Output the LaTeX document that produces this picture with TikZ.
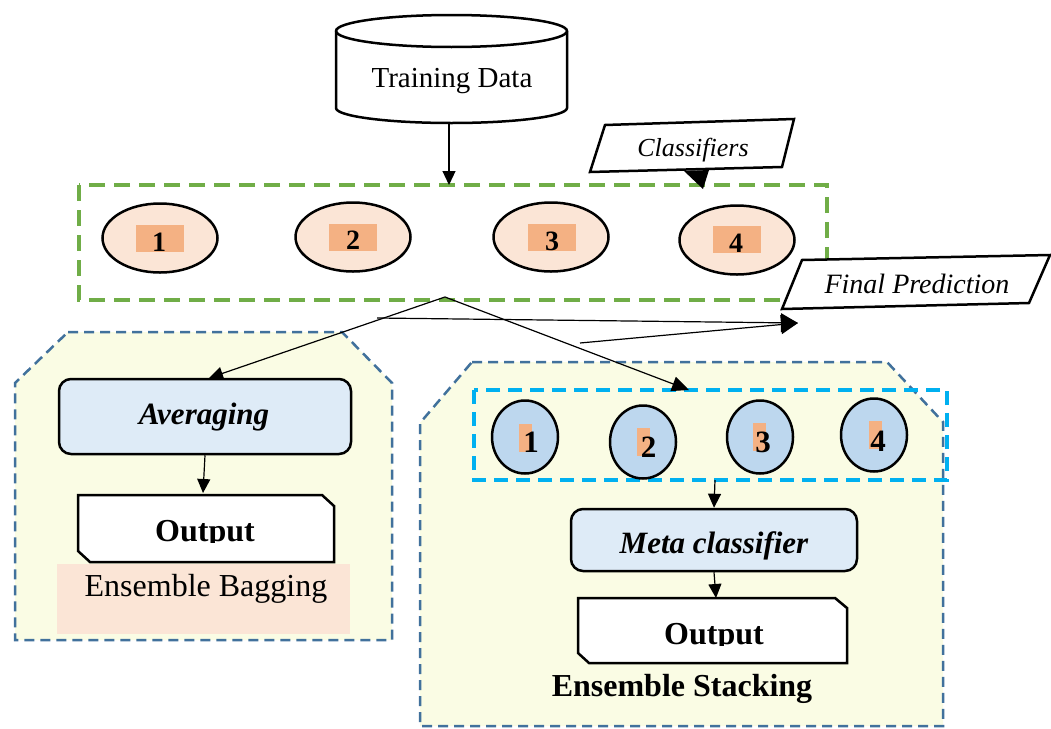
\documentclass[tikz,border=0pt]{standalone}
\usepackage{fontspec}
\setmainfont{Liberation Serif}
\usetikzlibrary{shapes.geometric,arrows.meta,calc}
\definecolor{peach}{HTML}{FBE5D6}
\definecolor{orng}{HTML}{F4B183}
\definecolor{cblue}{HTML}{BDD7EE}
\definecolor{lblue}{HTML}{DEEBF7}
\definecolor{pyellow}{RGB}{250,252,228}
\definecolor{gdash}{HTML}{70AD47}
\definecolor{bdash}{HTML}{41719C}
\definecolor{cdash}{HTML}{00B0F0}
\tikzset{
  panel/.style={draw=bdash, fill=pyellow, line width=2.5pt, dash pattern=on 10pt off 6pt},
  ell/.style={ellipse, draw, line width=2.5pt, fill=peach, minimum width=115pt, minimum height=69pt, inner sep=0pt},
  circ/.style={ellipse, draw, line width=2.5pt, fill=cblue, minimum width=66pt, minimum height=73pt, inner sep=0pt},
  orect/.style={fill=orng, inner sep=0pt, minimum width=48pt, minimum height=27pt},
  orectc/.style={fill=orng, inner sep=0pt, minimum width=13pt, minimum height=28pt},
  digA/.style={font=\fontsize{28}{28}\selectfont\bfseries, inner sep=0pt, anchor=base},
  digB/.style={font=\fontsize{31}{31}\selectfont\bfseries, inner sep=0pt, anchor=base},
  rbox/.style={draw, line width=2.5pt, fill=lblue, rounded corners=12pt, inner sep=0pt},
  shapeline/.style={draw, line width=2.5pt},
  lbl/.style={inner sep=0pt, anchor=base},
  arr/.style={line width=1.2pt, -{Triangle[length=14pt,width=13pt]}},
  bigarr/.style={line width=1.2pt, -{Triangle[length=17pt,width=19pt]}},
}
\begin{document}
\begin{tikzpicture}[x=1pt,y=-1pt]
\useasboundingbox[fill=white] (0,0) rectangle (1051,728);

% panels
\draw[panel] (68,332) -- (342,332) -- (392,383) -- (392,640) -- (15,640) -- (15,383) -- cycle;
\draw[panel] (472,362) -- (887,362) -- (943,422) -- (943,726) -- (420,726) -- (420,423) -- cycle;

% cylinder
\draw[line width=2.5pt, fill=white] (336,31) -- (336,108) arc[start angle=180, end angle=360, x radius=115.5pt, y radius=15pt] -- (567,31) arc[start angle=0, end angle=180, x radius=115.5pt, y radius=16pt] -- cycle;
\draw[line width=2.5pt] (336,31) arc[start angle=180, end angle=360, x radius=115.5pt, y radius=16pt];
\node[lbl, font=\fontsize{29}{29}\selectfont] (td) at (452,87) {Training Data};
\coordinate (tdb) at (449,124);

% classifier box
\draw[gdash, line width=4pt, dash pattern=on 16pt off 9pt] (79,185) rectangle (827,300);
\coordinate (gtop) at (449,185);
\coordinate (gtip) at (703,189);

\node[ell] (e1) at (160,238) {};
\node[ell] (e2) at (353,237) {};
\node[ell] (e3) at (551,237) {};
\node[ell] (e4) at (737,240) {};
\node[orect] (o1) at (160,238.5) {};
\node[orect] (o2) at (353,237.5) {};
\node[orect] (o3) at (552,237.5) {};
\node[orect] (o4) at (737,239.5) {};
\node[digA] (d1) at (159,251) {1};
\node[digA] (d2) at (353,249) {2};
\node[digA] (d3) at (552,250) {3};
\node[digA] (d4) at (736,252) {4};

% Classifiers callout
\draw[shapeline, fill=white] (605,125) -- (794,119) -- (782,167) -- (590,172) -- cycle;
\node[lbl, font=\fontsize{26}{26}\selectfont\itshape] (cls) at (693,156) {Classifiers};
\coordinate (clsb) at (697,170);
\fill (684,171) -- (709,170) -- (gtip) -- cycle;

% Final Prediction
\draw[shapeline, fill=white] (802,260) -- (1050,255) -- (1029,303) -- (782,309) -- cycle;
\node[lbl, font=\fontsize{28}{28}\selectfont\itshape] (fp) at (917,293) {Final Prediction};
\coordinate (fpin) at (798,323);

% left panel content
\node[rbox, minimum width=292pt, minimum height=75pt] (avg) at (205,416.5) {};
\node[lbl, font=\fontsize{31}{31}\selectfont\bfseries\itshape] (avgt) at (204,424) {Averaging};
\fill[peach] (57,564) rectangle (350,634);
\node[lbl, font=\fontsize{32}{32}\selectfont] (bag) at (206,596) {Ensemble Bagging};
\draw[shapeline, fill=white] (78,495) -- (322,495) -- (334,506) -- (334,562) -- (90,562) -- (78,551) -- cycle;
\begin{scope}
\clip (78,495) rectangle (334,542);
\node[lbl, font=\fontsize{32}{32}\selectfont\bfseries] (outL) at (205,541) {Output};
\end{scope}
\coordinate (outLtop) at (203,493);

% right panel content
\draw[cdash, line width=4pt, dash pattern=on 14pt off 8pt] (474,390) rectangle (947,480);
\node[circ] (c1) at (525,437) {};
\node[circ] (c2) at (643,442) {};
\node[circ] (c3) at (760,437) {};
\node[circ] (c4) at (874,435) {};
\node[orectc] (r1) at (525,438) {};
\node[orectc] (r2) at (643.5,442) {};
\node[orectc] (r3) at (759.5,437) {};
\node[orectc] (r4) at (875,435) {};
\node[digB] (f1) at (531,452) {1};
\node[digB] (f2) at (648.5,457) {2};
\node[digB] (f3) at (763,452) {3};
\node[digB] (f4) at (878,451) {4};
\coordinate (cytop) at (689,390);
\coordinate (cybot) at (715,480);

\node[rbox, minimum width=286pt, minimum height=62pt] (meta) at (714,540) {};
\node[lbl, font=\fontsize{31}{31}\selectfont\bfseries\itshape] (metat) at (714,553) {Meta classifier};
\draw[shapeline, fill=white] (578,598) -- (835,598) -- (847,608) -- (847,663) -- (589,663) -- (578,653) -- cycle;
\begin{scope}
\clip (578,598) rectangle (847,645);
\node[lbl, font=\fontsize{32}{32}\selectfont\bfseries] (outR) at (714,644) {Output};
\end{scope}
\coordinate (outRtop) at (716,598);
\node[lbl, font=\fontsize{32}{32}\selectfont\bfseries] (stk) at (682,696) {Ensemble Stacking};

% connectors
\coordinate (apex) at (445,297);
\coordinate (avgtop) at (209,378);
\coordinate (h1) at (377,318);
\coordinate (h2) at (580,343);
\draw[arr] (tdb) -- (gtop);
\draw[arr] (apex) -- (avgtop);
\draw[arr, -{Triangle[length=17pt,width=15pt]}] (apex) -- (cytop);
\draw[bigarr] (h1) -- (fpin);
\draw[bigarr] (h2) -- (fpin);
\draw[arr] (avg.south) -- (outLtop);
\draw[arr] (cybot) -- (meta.north);
\draw[arr] (meta.south) -- (outRtop);
\end{tikzpicture}
\end{document}
